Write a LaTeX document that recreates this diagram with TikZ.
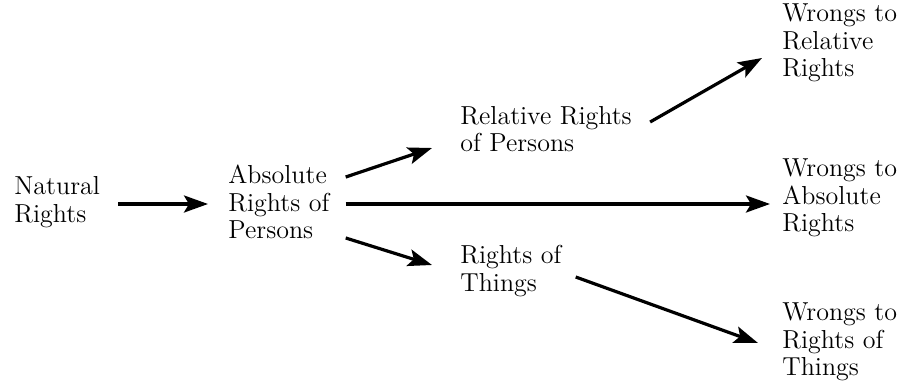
\documentclass[tikz,border=0pt]{standalone}
\usepackage{tikz}
\usetikzlibrary{positioning, arrows.meta}

\begin{document}
\begin{tikzpicture}[x=0.5pt, y=-0.5pt,
    lbl/.style={anchor=west, align=left, inner sep=0pt, font=\fontsize{13}{13.7}\selectfont},
    arr/.style={-{Stealth[length=12pt, width=8.5pt, inset=2.5pt]}, line width=1.6pt}]
    \useasboundingbox (0,0) rectangle (901,386);

    % 左の列
    \node[lbl] (nat) at (14,202) {Natural\\Rights};
    \node[lbl] (abs) at (228,202) {Absolute\\Rights of\\Persons};

    % 中の列
    \node[lbl] (rel) at (460,129) {Relative Rights\\of Persons};
    \node[lbl] (thi) at (460,271) {Rights of\\Things};

    % 右の列
    \node[lbl] (wrr) at (782,43) {Wrongs to\\Relative\\Rights};
    \node[lbl] (wab) at (782,198) {Wrongs to\\Absolute\\Rights};
    \node[lbl] (wth) at (782,342) {Wrongs to\\Rights of\\Things};

    % 矢印
    \draw[arr] ([shift={(18,2)}]nat.east) -- ([shift={(-20,2)}]abs.west);
    \draw[arr] ([shift={(16,-25)}]abs.east) -- ([shift={(-28,19)}]rel.west);
    \draw[arr] ([shift={(16,2)}]abs.east) -- ([shift={(-12,6)}]wab.west);
    \draw[arr] ([shift={(16,36)}]abs.east) -- ([shift={(-28,-6)}]thi.west);
    \draw[arr] ([shift={(18,-7)}]rel.east) -- ([shift={(-20,15)}]wrr.west);
    \draw[arr] ([shift={(14,6)}]thi.east) -- ([shift={(-24,1)}]wth.west);

\end{tikzpicture}
\end{document}
